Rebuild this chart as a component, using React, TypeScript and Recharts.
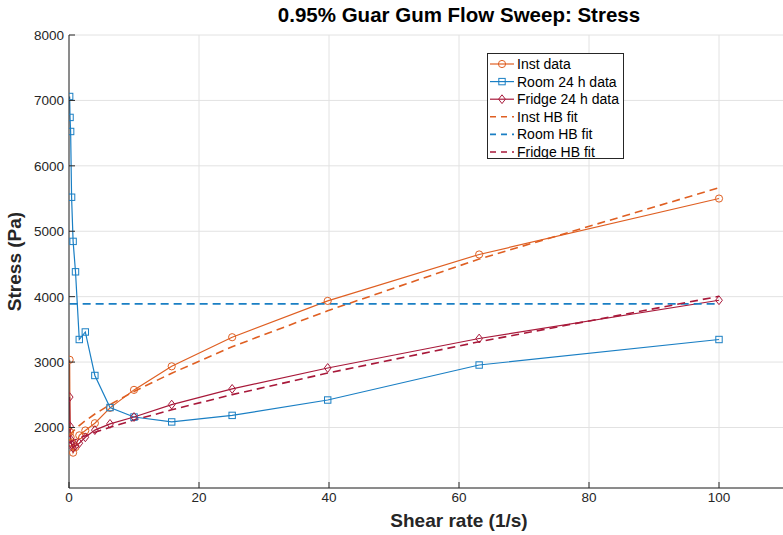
import { LineChart, Line, XAxis, YAxis, CartesianGrid, Legend } from 'recharts'

// shear rates (1/s) used for every series
const shearRate = [0.1, 0.158, 0.251, 0.398, 0.631, 1, 1.58, 2.51, 3.98, 6.31, 10, 15.8, 25.1, 39.8, 63.1, 100]

// measured stress (Pa)
const instStress = [3035, 1930, 1850, 1770, 1615, 1700, 1880, 1955, 2065, 2300, 2575, 2935, 3380, 3935, 4645, 5500]
const roomStress = [7060, 6740, 6525, 5520, 4845, 4380, 3345, 3460, 2795, 2305, 2160, 2085, 2185, 2420, 2955, 3345]
const fridgeStress = [2465, 2020, 1820, 1740, 1685, 1720, 1760, 1850, 1960, 2055, 2160, 2350, 2590, 2910, 3360, 3945]

// Herschel-Bulkley fit curves (Pa)
const instFit = [1875, 1883, 1896, 1915, 1942, 1978, 2030, 2103, 2206, 2350, 2551, 2830, 3235, 3785, 4575, 5665]
const roomFit = [3890, 3890, 3890, 3890, 3890, 3890, 3890, 3890, 3890, 3890, 3890, 3890, 3890, 3890, 3890, 3890]
const fridgeFit = [1765, 1769, 1775, 1783, 1795, 1812, 1837, 1874, 1927, 2003, 2113, 2270, 2502, 2832, 3310, 4005]

const xTicks = [0, 20, 40, 60, 80, 100]
const yTicks = [2000, 3000, 4000, 5000, 6000, 7000, 8000]

const ORANGE = '#DF5F22'
const BLUE = '#1A7FC4'
const RED = '#A8193A'
const AXIS = '#262626'
const FONT = '"Liberation Sans", Arial, sans-serif'

const toRows = (ys: number[]) => shearRate.map((rate, i) => ({ rate, stress: ys[i] }))

const legendItems = [
	{ name: 'Inst data', color: ORANGE, dash: false, marker: 'circle' },
	{ name: 'Room 24 h data', color: BLUE, dash: false, marker: 'square' },
	{ name: 'Fridge 24 h data', color: RED, dash: false, marker: 'diamond' },
	{ name: 'Inst HB fit', color: ORANGE, dash: true, marker: '' },
	{ name: 'Room HB fit', color: BLUE, dash: true, marker: '' },
	{ name: 'Fridge HB fit', color: RED, dash: true, marker: '' },
]

const marker = (kind: string, cx: number, cy: number, color: string, key?: any) => {
	if (kind === 'circle') return <circle key={key} cx={cx} cy={cy} r={3.6} fill="none" stroke={color} strokeWidth={1} />
	if (kind === 'square') return <rect key={key} x={cx - 3.2} y={cy - 3.2} width={6.4} height={6.4} fill="none" stroke={color} strokeWidth={1} />
	if (kind === 'diamond')
		return <path key={key} d={`M${cx},${cy - 4.4}L${cx + 3.4},${cy}L${cx},${cy + 4.4}L${cx - 3.4},${cy}Z`} fill="none" stroke={color} strokeWidth={1} />
	return null
}

const dotFor = (kind: string, color: string) => (p: any) => marker(kind, p.cx, p.cy, color, `${kind}-${p.index}`)

const XTick = (props: any) => {
	const { x, y, payload } = props
	return (
		<g>
			<line x1={x} x2={x} y1={y} y2={y - 6} stroke={AXIS} strokeWidth={1} />
			<text x={x} y={y + 14} textAnchor="middle" fontSize={13.5} fontFamily={FONT} fill={AXIS}>
				{payload.value}
			</text>
		</g>
	)
}

const YTick = (props: any) => {
	const { x, y, payload } = props
	return (
		<g>
			<line x1={x} x2={x + 6} y1={y} y2={y} stroke={AXIS} strokeWidth={1} />
			<text x={x - 5} y={y + 5} textAnchor="end" fontSize={13.5} fontFamily={FONT} fill={AXIS}>
				{payload.value}
			</text>
		</g>
	)
}

const renderLegend = () => (
	<svg width={137} height={106} style={{ display: 'block' }}>
		<rect x={0.5} y={0.5} width={136} height={105} fill="#fff" stroke={AXIS} strokeWidth={1} />
		{legendItems.map((item, i) => {
			const cy = 11 + i * 17.6
			return (
				<g key={item.name}>
					<line
						x1={3}
						x2={27}
						y1={cy}
						y2={cy}
						stroke={item.color}
						strokeWidth={item.dash ? 1.6 : 1.2}
						strokeDasharray={item.dash ? '6 5' : undefined}
					/>
					{marker(item.marker, 15, cy, item.color)}
					<text x={30} y={cy + 5} fontSize={14} fontFamily={FONT} fill="#000">
						{item.name}
					</text>
				</g>
			)
		})}
	</svg>
)

export default function App() {
	return (
		<div style={{ position: 'absolute', left: 0, top: 0, width: 783, height: 535, overflow: 'hidden', background: '#fff' }}>
			<div
				style={{
					position: 'absolute',
					left: 69,
					top: 5,
					width: 780,
					textAlign: 'center',
					fontFamily: FONT,
					fontWeight: 'bold',
					fontSize: 20.5,
					lineHeight: '20px',
					color: '#000',
				}}
			>
				0.95% Guar Gum Flow Sweep: Stress
			</div>
			<LineChart width={860} height={535} margin={{ top: 35, right: 11, bottom: 0, left: 0 }}>
				<CartesianGrid stroke="#e2e2e2" strokeWidth={1} />
				<XAxis
					dataKey="rate"
					type="number"
					domain={[0, 120]}
					ticks={xTicks}
					height={47}
					stroke={AXIS}
					tickLine={false}
					tickSize={0}
					tickMargin={0}
					tick={<XTick />}
					allowDataOverflow
					label={{ value: 'Shear rate (1/s)', position: 'insideBottom', offset: 8, style: { fontFamily: FONT, fontWeight: 'bold', fontSize: 19, fill: AXIS } }}
				/>
				<YAxis
					type="number"
					domain={[1075, 8000]}
					ticks={yTicks}
					width={69}
					stroke={AXIS}
					tickLine={false}
					tickSize={0}
					tickMargin={0}
					tick={<YTick />}
					allowDataOverflow
					label={{ value: 'Stress (Pa)', angle: -90, position: 'insideLeft', offset: 14, style: { fontFamily: FONT, fontWeight: 'bold', fontSize: 19, fill: AXIS, textAnchor: 'middle' } }}
				/>
				<Legend
					layout="vertical"
					align="center"
					verticalAlign="middle"
					content={renderLegend}
					wrapperStyle={{ position: 'absolute', left: 487, top: 53, width: 137, height: 106 }}
				/>
				<Line data={toRows(instStress)} dataKey="stress" stroke={ORANGE} strokeWidth={1.2} dot={dotFor('circle', ORANGE)} isAnimationActive={false} />
				<Line data={toRows(roomStress)} dataKey="stress" stroke={BLUE} strokeWidth={1.2} dot={dotFor('square', BLUE)} isAnimationActive={false} />
				<Line data={toRows(fridgeStress)} dataKey="stress" stroke={RED} strokeWidth={1.2} dot={dotFor('diamond', RED)} isAnimationActive={false} />
				<Line data={toRows(instFit)} dataKey="stress" stroke={ORANGE} strokeWidth={1.6} strokeDasharray="8 5" dot={false} isAnimationActive={false} />
				<Line data={toRows(roomFit)} dataKey="stress" stroke={BLUE} strokeWidth={1.6} strokeDasharray="8 5" dot={false} isAnimationActive={false} />
				<Line data={toRows(fridgeFit)} dataKey="stress" stroke={RED} strokeWidth={1.6} strokeDasharray="8 5" dot={false} isAnimationActive={false} />
			</LineChart>
		</div>
	)
}
